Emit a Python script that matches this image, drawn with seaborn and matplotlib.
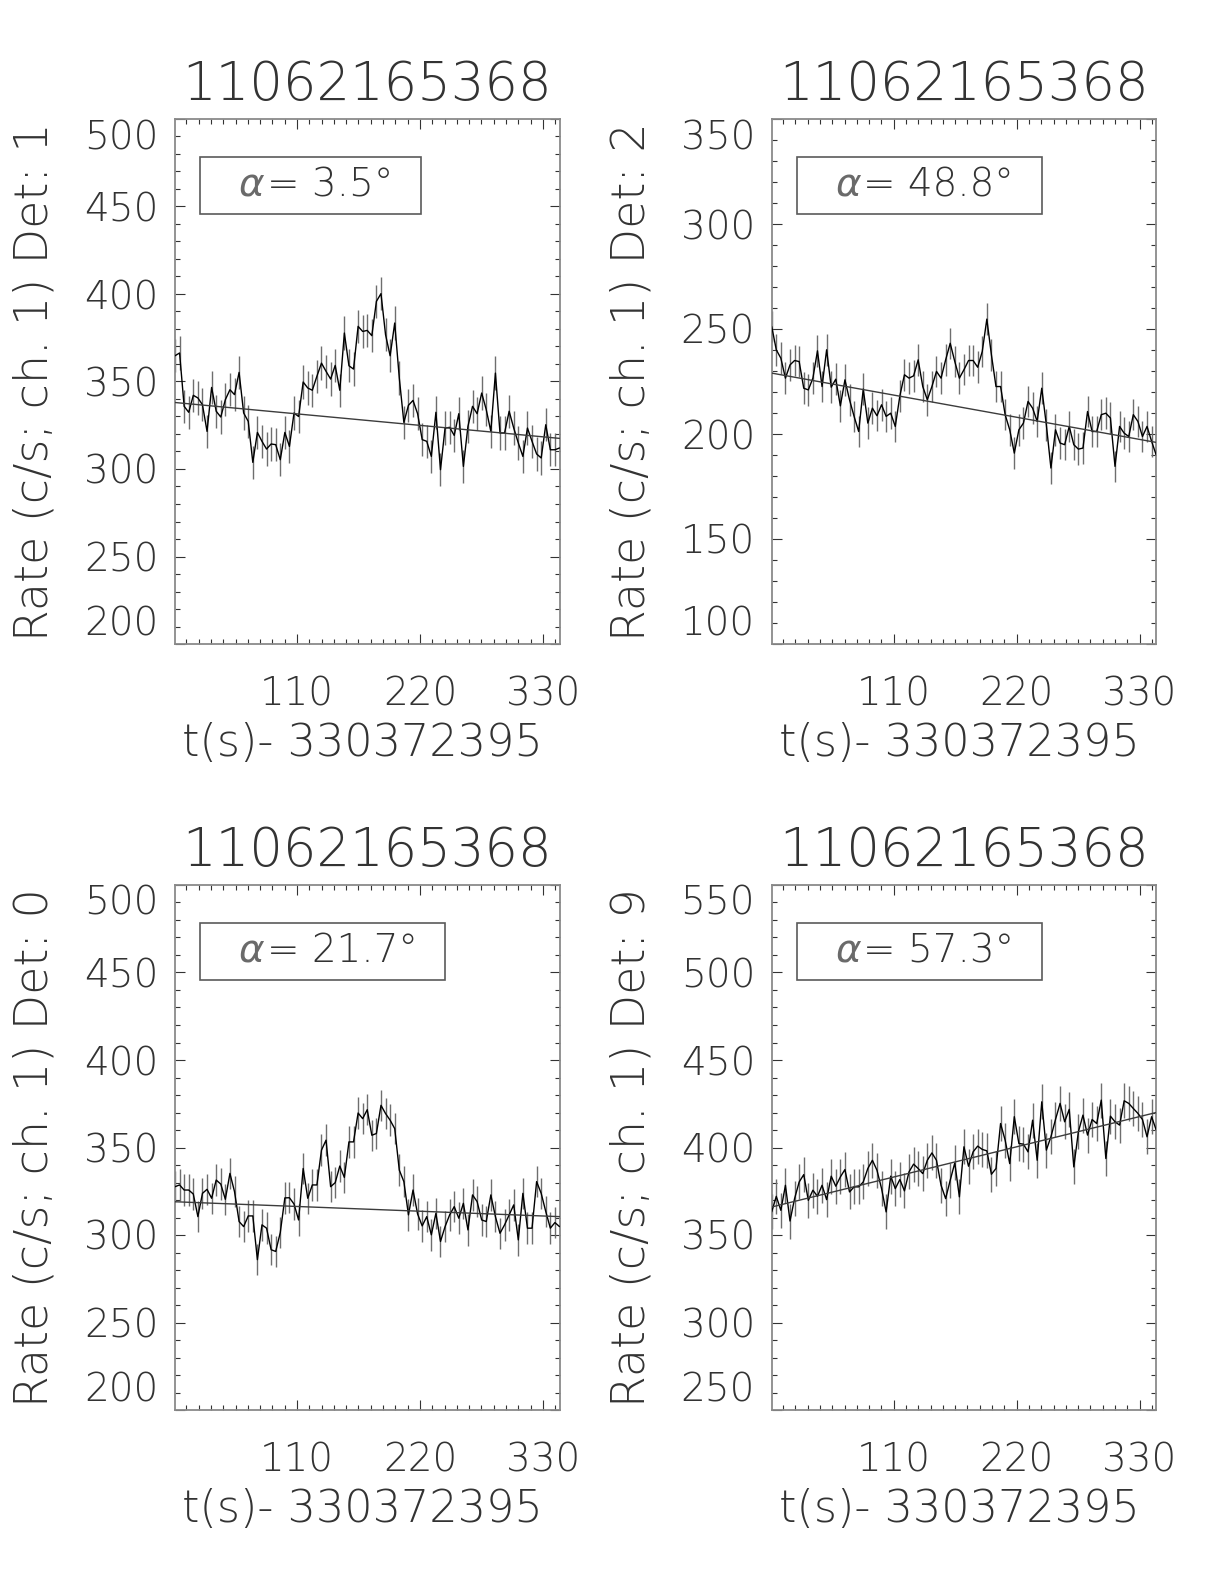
import numpy as np
import matplotlib
matplotlib.use("Agg")
import matplotlib.pyplot as plt
import seaborn as sns
from matplotlib.ticker import MultipleLocator
from matplotlib.patches import Rectangle

# ---------------- data ----------------
title_text = "11062165368"
xlabel_text = "t(s)- 330372395"
t_start = 0.8          # s, first bin
bin_width = 4.096      # s, CSPEC bin width
n_bins = 85

rate_det1 = [364.7, 366.3, 335.8, 332.4, 342.1, 340.6, 336.7, 321.5, 346.6, 333.0,
             329.7, 339.6, 345.3, 342.5, 355.2, 332.0, 327.2, 303.8, 320.9, 315.8,
             311.4, 314.3, 313.9, 305.3, 320.9, 312.9, 332.0, 330.0, 349.7, 346.3,
             345.0, 353.0, 360.5, 355.8, 351.4, 359.2, 345.0, 377.7, 359.0, 357.1,
             381.5, 378.6, 379.2, 376.2, 395.8, 400.2, 376.7, 364.7, 383.4, 352.0,
             326.6, 336.4, 339.2, 331.6, 316.8, 315.8, 307.2, 332.4, 299.6, 323.4,
             323.8, 319.2, 331.6, 301.5, 324.4, 335.8, 331.6, 343.4, 333.9, 321.5,
             354.8, 320.6, 320.6, 333.0, 323.4, 314.9, 307.2, 323.4, 315.8, 308.6,
             306.3, 325.3, 311.0, 311.0, 312.0]
rate_det2 = [251.2, 240.1, 236.1, 226.6, 232.9, 235.0, 234.5, 221.8, 221.0, 226.6,
             239.6, 222.6, 240.1, 222.3, 226.1, 213.4, 225.8, 216.3, 208.4, 201.2,
             221.4, 205.2, 212.3, 208.7, 213.9, 208.4, 209.9, 203.6, 218.2, 228.2,
             226.6, 227.7, 235.3, 222.6, 216.3, 222.6, 229.8, 226.6, 235.3, 243.2,
             234.5, 226.6, 230.6, 235.0, 235.0, 231.8, 239.3, 254.7, 237.7, 222.6,
             222.6, 209.2, 202.0, 190.9, 202.0, 205.2, 215.5, 212.3, 206.0, 221.8,
             204.4, 183.8, 202.0, 195.7, 194.9, 203.6, 194.9, 192.8, 193.3, 210.7,
             201.2, 201.2, 209.2, 209.9, 207.6, 184.6, 203.6, 200.4, 198.8, 209.2,
             206.0, 198.8, 203.6, 196.5, 190.0]
rate_det0 = [327.6, 328.6, 325.7, 325.7, 323.4, 310.5, 323.8, 326.1, 321.0, 331.4,
             329.1, 320.4, 335.2, 324.8, 307.7, 304.8, 310.9, 310.9, 285.9, 305.8,
             303.9, 291.6, 290.6, 301.4, 321.2, 321.3, 317.7, 308.6, 338.0, 321.0,
             328.6, 328.6, 348.5, 354.2, 327.6, 329.9, 339.4, 332.9, 353.2, 353.2,
             369.7, 366.5, 371.6, 357.0, 358.0, 374.1, 369.4, 365.6, 360.8, 337.1,
             330.5, 311.5, 325.7, 312.0, 305.2, 310.5, 300.1, 312.4, 296.3, 304.8,
             311.5, 316.2, 309.6, 318.1, 302.9, 322.9, 319.1, 308.6, 307.7, 322.9,
             310.5, 301.0, 305.8, 311.5, 317.2, 297.2, 323.8, 303.9, 303.9, 330.5,
             323.8, 313.4, 303.9, 307.1, 304.8]
rate_det9 = [363.2, 372.1, 364.1, 378.4, 358.0, 370.8, 380.3, 384.5, 369.8, 375.6,
             372.1, 378.4, 370.2, 383.6, 377.9, 383.2, 387.4, 374.6, 377.5, 377.5,
             380.3, 388.0, 392.7, 387.0, 376.5, 363.2, 383.6, 376.5, 381.7, 375.2,
             386.1, 390.5, 388.0, 385.1, 392.7, 396.9, 392.7, 378.4, 370.8, 381.3,
             391.2, 371.8, 400.4, 389.3, 397.5, 400.8, 398.9, 398.1, 384.7, 388.0,
             413.7, 404.2, 390.8, 417.6, 402.3, 401.9, 397.5, 415.6, 392.7, 426.1,
             398.5, 406.1, 416.0, 425.2, 414.7, 421.8, 388.9, 409.0, 418.5, 407.1,
             416.0, 413.7, 427.1, 393.7, 417.9, 414.7, 412.8, 426.7, 425.2, 422.3,
             419.5, 416.0, 406.1, 417.6, 410.0]

# half-length of error bars (c/s) read per panel
err_det1, err_det2, err_det0, err_det9 = 9.5, 7.5, 9.0, 10.0
# background fit: value at first and last bin
fit_det1 = [338.0, 317.5]
fit_det2 = [229.0, 196.0]
fit_det0 = [319.0, 310.5]
fit_det9 = [366.0, 420.0]

det_names = ["1", "2", "0", "9"]
alpha_labels = ["3.5", "48.8", "21.7", "57.3"]
ylims = [(200, 500), (100, 350), (200, 500), (250, 550)]

# ---------------- style ----------------
sns.set_style("ticks")
plt.rcParams["font.family"] = ["DejaVu Sans"]
plt.rcParams["font.weight"] = 200
TXT = "#333333"
FW = 200

fig = plt.figure(figsize=(12.24, 15.84), dpi=100)

t = t_start + bin_width * np.arange(n_bins)
rates = [rate_det1, rate_det2, rate_det0, rate_det9]
errs = [err_det1, err_det2, err_det0, err_det9]
fits = [fit_det1, fit_det2, fit_det0, fit_det9]

W, H = 1224.0, 1584.0
boxes = [(175.0, 119.0), (771.7, 119.0), (175.0, 885.0), (771.7, 885.0)]  # left, top px
AW, AH = 384.5, 525.0

alpha_texts = []
for k in range(4):
    lpx, tpx = boxes[k]
    ax = fig.add_axes([lpx / W, 1 - (tpx + AH) / H, AW / W, AH / H])
    v = np.array(rates[k])
    e = errs[k]
    ax.vlines(t, v - e, v + e, color="#6e6e6e", lw=1.0, zorder=2)
    sns.lineplot(x=t, y=v, ax=ax, color="black", lw=1.0, estimator=None,
                 sort=False, zorder=3)
    sns.lineplot(x=[t[0], t[-1]], y=fits[k], ax=ax, color="#3c3c3c", lw=1.0,
                 estimator=None, sort=False, zorder=4)
    ymin, ymax = ylims[k]
    ax.set_xlim(t[0], t[-1])
    ax.set_ylim(ymin, ymax)
    ax.set_xticks([110, 220, 330])
    ax.xaxis.set_minor_locator(MultipleLocator(11))
    ax.set_yticks(np.arange(ymin, ymax + 1, 50))
    ax.yaxis.set_minor_locator(MultipleLocator(10))
    ax.tick_params(which="both", direction="in", top=True, right=True,
                   color="#333333", width=0.8)
    ax.tick_params(which="major", length=7, labelsize=28, labelcolor=TXT)
    ax.tick_params(which="minor", length=3.5)
    ax.tick_params(axis="x", pad=23)
    ax.tick_params(axis="y", pad=12)
    for s in ax.spines.values():
        s.set_color("#8a8a8a")
        s.set_linewidth(1.3)
    ax.set_xlabel("")
    ax.set_ylabel("")
    for lab in ax.get_xticklabels() + ax.get_yticklabels():
        lab.set_fontweight(FW)
    ylab = ax.get_yticklabels()
    ylab[0].set_va("bottom")
    ylab[-1].set_va("top")

    ax.text(0.5, 1.036, title_text, transform=ax.transAxes, ha="center",
            va="baseline", fontsize=38, color=TXT, fontweight=FW)
    ax.text(0.487, -0.2133, xlabel_text, transform=ax.transAxes, ha="center",
            va="baseline", fontsize=32, color=TXT, fontweight=FW)
    fig.text((lpx - 140) / W, 1 - (tpx + AH / 2) / H,
             "Rate (c/s; ch. 1) Det: " + det_names[k], rotation=90,
             ha="center", va="center", fontsize=33, color=TXT, fontweight=FW)
    a1 = ax.text(0.166, 0.838, "α", transform=ax.transAxes, ha="left",
                 va="bottom", fontsize=28, color="#6a6a6a", fontstyle="italic",
                 zorder=6)
    a2 = ax.annotate("= " + alpha_labels[k] + "°", xy=(1, 0), xycoords=a1,
                     xytext=(1.5, 0), textcoords="offset points", ha="left",
                     va="bottom", fontsize=28, color=TXT, fontweight=FW, zorder=6)
    alpha_texts.append((ax, a1, a2))

fig.canvas.draw()
renderer = fig.canvas.get_renderer()
for ax, a1, a2 in alpha_texts:
    b1 = a1.get_window_extent(renderer)
    b2 = a2.get_window_extent(renderer)
    yc = 0.5 * (b2.y0 + b2.y1)
    x0, x1 = b1.x0 - 39, b2.x1 + 28
    y0, y1 = yc - 28.5, yc + 28.5
    rect = Rectangle((x0 / W, y0 / H), (x1 - x0) / W, (y1 - y0) / H,
                     transform=fig.transFigure, fill=False, ec="#5a5a5a",
                     lw=1.2, zorder=5)
    fig.patches.append(rect)

fig.savefig("out.png", dpi=100)
